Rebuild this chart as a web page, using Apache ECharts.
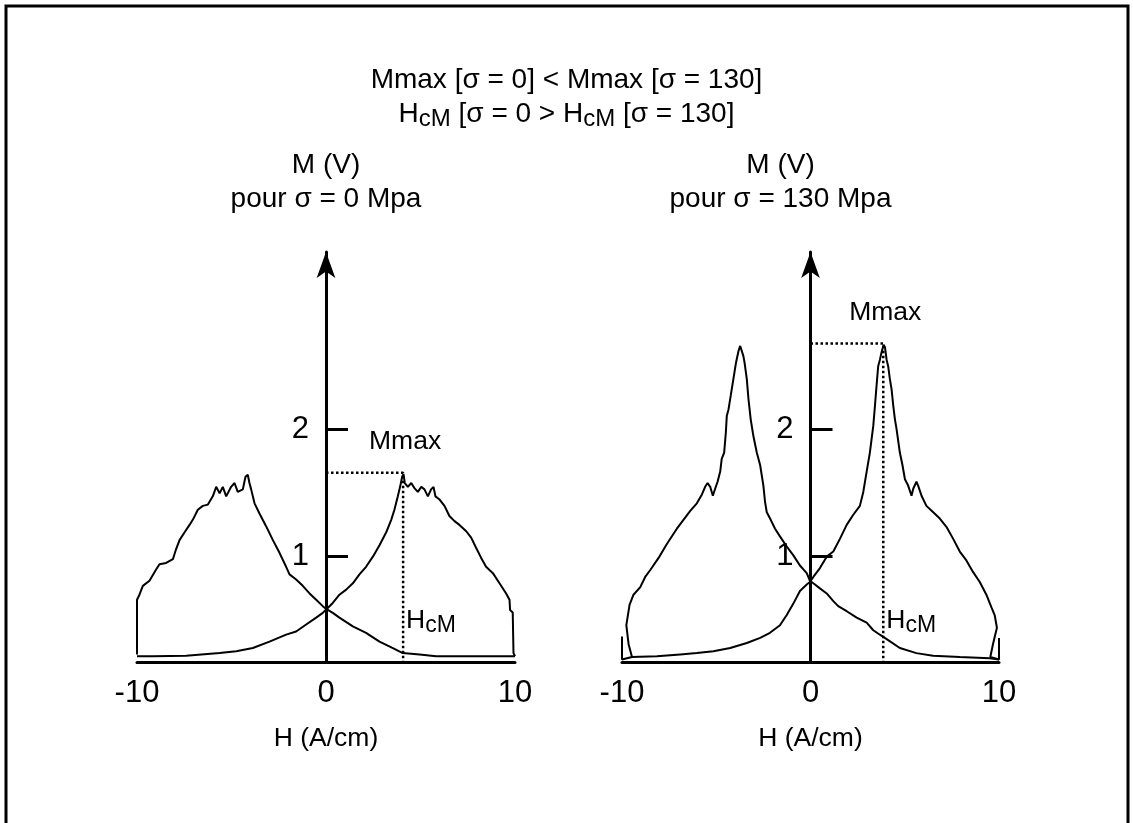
<!DOCTYPE html>
<html>
<head>
<meta charset="utf-8">
<script src="https://cdn.jsdelivr.net/npm/echarts@6/dist/echarts.min.js"></script>
<style>
  html, body { margin: 0; padding: 0; background: #fff; }
  #container { width: 1133px; height: 823px; }
</style>
</head>
<body>
<div id="container"></div>
<script>
var hTicks = [-10, 0, 10];
var mTicks = [1, 2];
var mMin = 0.17, mMax = 3.4;

// sigma = 0 MPa : branch with its peak at +H, branch with its peak at -H
var up0 = [[-10, 0.215], [-9.16, 0.215], [-7.4, 0.22], [-5.63, 0.24], [-4.75, 0.255], [-3.87, 0.28], [-2.99, 0.33],
  [-2.11, 0.386], [-1.58, 0.41], [-1.05, 0.465], [-0.52, 0.52], [-0.17, 0.557], [0.01, 0.583], [0.36, 0.635],
  [0.71, 0.70], [1.07, 0.74], [1.42, 0.79], [1.77, 0.86], [2.12, 0.92], [2.48, 1.00], [2.83, 1.09], [3.18, 1.19],
  [3.45, 1.29], [3.62, 1.37], [3.80, 1.475], [3.92, 1.55], [4.03, 1.63], [4.10, 1.65], [4.17, 1.58], [4.33, 1.55],
  [4.51, 1.58], [4.68, 1.54], [4.86, 1.51], [5.04, 1.55], [5.21, 1.53], [5.39, 1.475], [5.56, 1.53], [5.69, 1.55],
  [5.79, 1.475], [6.01, 1.45], [6.27, 1.40], [6.53, 1.32], [6.80, 1.28], [7.06, 1.25], [7.42, 1.20], [7.68, 1.15],
  [7.94, 1.07], [8.21, 0.99], [8.47, 0.92], [8.83, 0.87], [9.18, 0.79], [9.53, 0.71], [9.71, 0.66], [9.74, 0.58],
  [9.88, 0.56], [9.92, 0.24], [10, 0.215]];
var down0 = [[-10, 0.23], [-10, 0.66], [-9.87, 0.70], [-9.69, 0.77], [-9.34, 0.81], [-8.98, 0.90], [-8.81, 0.94],
  [-8.46, 0.95], [-8.10, 0.98], [-7.93, 1.06], [-7.75, 1.13], [-7.49, 1.19], [-7.22, 1.25], [-7.05, 1.29],
  [-6.78, 1.37], [-6.52, 1.40], [-6.25, 1.41], [-5.99, 1.475], [-5.81, 1.55], [-5.63, 1.50], [-5.46, 1.55],
  [-5.28, 1.475], [-5.02, 1.55], [-4.84, 1.58], [-4.67, 1.51], [-4.40, 1.53], [-4.26, 1.63], [-4.14, 1.645],
  [-4.05, 1.58], [-3.96, 1.53], [-3.78, 1.42], [-3.52, 1.34], [-3.17, 1.24], [-2.81, 1.13], [-2.46, 1.03],
  [-2.11, 0.92], [-1.93, 0.86], [-1.58, 0.82], [-1.23, 0.77], [-0.87, 0.71], [-0.52, 0.66], [-0.17, 0.61],
  [0.01, 0.588], [0.36, 0.557], [0.71, 0.52], [1.42, 0.45], [2.12, 0.40], [2.83, 0.33], [3.54, 0.28], [4.06, 0.24],
  [4.95, 0.23], [5.83, 0.215], [6.71, 0.215], [8.47, 0.215], [9.88, 0.215], [10, 0.215]];
var peak0 = [4.08, 1.66];

// sigma = 130 MPa
var up130 = [[-9.5, 0.21], [-8.15, 0.216], [-6.91, 0.23], [-6.03, 0.24], [-5.15, 0.255], [-4.26, 0.28], [-3.38, 0.32],
  [-2.67, 0.36], [-2.15, 0.40], [-1.62, 0.46], [-1.26, 0.54], [-0.91, 0.63], [-0.56, 0.73], [-0.20, 0.78],
  [-0.03, 0.80], [0.15, 0.84], [0.50, 0.91], [0.86, 1.00], [1.21, 1.04], [1.56, 1.14], [1.92, 1.25], [2.27, 1.33],
  [2.62, 1.40], [2.80, 1.51], [2.98, 1.67], [3.15, 1.82], [3.33, 2.03], [3.42, 2.19], [3.50, 2.34], [3.59, 2.50],
  [3.68, 2.55], [3.77, 2.61], [3.88, 2.67], [3.95, 2.65], [4.04, 2.55], [4.12, 2.50], [4.21, 2.40], [4.30, 2.32],
  [4.39, 2.19], [4.48, 2.08], [4.56, 2.01], [4.74, 1.82], [4.88, 1.72], [5.01, 1.61], [5.18, 1.56], [5.36, 1.48],
  [5.45, 1.535], [5.62, 1.59], [5.71, 1.56], [5.89, 1.48], [6.15, 1.40], [6.51, 1.35], [6.86, 1.30], [7.21, 1.235],
  [7.57, 1.14], [7.92, 1.04], [8.27, 0.97], [8.62, 0.88], [8.98, 0.80], [9.33, 0.70], [9.6, 0.60], [9.77, 0.54],
  [9.89, 0.44], [9.68, 0.31], [9.54, 0.21], [10, 0.19], [10, 0.36]];
var down130 = [[-10, 0.37], [-10, 0.19], [-9.47, 0.21], [-9.65, 0.31], [-9.77, 0.46], [-9.6, 0.62], [-9.39, 0.70],
  [-9.03, 0.76], [-8.77, 0.84], [-8.5, 0.895], [-8.06, 0.99], [-7.62, 1.10], [-7.09, 1.22], [-6.74, 1.29],
  [-6.38, 1.36], [-6.03, 1.42], [-5.76, 1.49], [-5.59, 1.55], [-5.46, 1.58], [-5.32, 1.55], [-5.18, 1.48],
  [-5.06, 1.535], [-4.93, 1.59], [-4.79, 1.67], [-4.71, 1.77], [-4.58, 1.82], [-4.49, 1.98], [-4.44, 2.11],
  [-4.35, 2.16], [-4.23, 2.27], [-4.09, 2.40], [-3.95, 2.53], [-3.82, 2.62], [-3.73, 2.66], [-3.65, 2.65],
  [-3.56, 2.58], [-3.50, 2.53], [-3.38, 2.40], [-3.29, 2.24], [-3.17, 2.08], [-3.03, 1.95], [-2.85, 1.82],
  [-2.67, 1.72], [-2.50, 1.56], [-2.41, 1.43], [-2.32, 1.35], [-2.11, 1.29], [-1.88, 1.22], [-1.62, 1.16],
  [-1.26, 1.08], [-0.91, 1.01], [-0.56, 0.93], [-0.20, 0.87], [-0.03, 0.81], [0.15, 0.79], [0.50, 0.75],
  [0.86, 0.71], [1.21, 0.65], [1.47, 0.61], [1.92, 0.57], [2.45, 0.52], [2.98, 0.48], [3.33, 0.42], [3.68, 0.385],
  [4.04, 0.35], [4.74, 0.28], [5.62, 0.24], [6.5, 0.22], [7.92, 0.21], [9.51, 0.20], [10, 0.19]];
var peak130 = [3.86, 2.68];

var font = 'Liberation Sans, Arial, Helvetica, sans-serif';

function xAxisFor(idx) {
    return {
        type: 'value', gridIndex: idx, min: -10, max: 10, interval: 10,
        axisLine: { onZero: false, lineStyle: { color: '#000', width: 3 } },
        axisTick: { show: false },
        splitLine: { show: false },
        axisLabel: { color: '#000', fontSize: 31, fontFamily: font, margin: 16 },
        name: 'H (A/cm)', nameLocation: 'middle', nameGap: 63,
        nameTextStyle: { color: '#000', fontSize: 26.5, fontFamily: font }
    };
}

// the M axis stands at H = 0, so it is shifted into the middle of its grid
function yAxisFor(idx, name, shift, pad) {
    return {
        type: 'value', gridIndex: idx, min: mMin, max: mMax, offset: -shift,
        axisLine: { onZero: false, symbol: ['none', 'arrow'], symbolSize: [14, 26],
            lineStyle: { color: '#000', width: 3 } },
        axisTick: { inside: true, length: 22, customValues: mTicks, lineStyle: { color: '#000', width: 3 } },
        axisLabel: { customValues: mTicks, color: '#000', fontSize: 31, fontFamily: font, margin: 17 },
        splitLine: { show: false },
        name: name, nameLocation: 'end', nameGap: 36,
        nameTextStyle: { color: '#000', fontSize: 28, fontFamily: font, lineHeight: 34, padding: pad }
    };
}

function curve(idx, data) {
    return {
        type: 'line', xAxisIndex: idx, yAxisIndex: idx, data: data,
        showSymbol: false, symbol: 'none', silent: true,
        lineStyle: { color: '#000', width: 2 }
    };
}

function guide(idx, peak) {
    return {
        type: 'line', xAxisIndex: idx, yAxisIndex: idx, showSymbol: false, symbol: 'none', silent: true,
        data: [[0, peak[1]], [peak[0], peak[1]], [peak[0], mMin]],
        lineStyle: { color: '#000', width: 2.5, type: 'dotted' }
    };
}

var subStyle = { color: '#000', fontSize: 23, fontFamily: font, padding: [9, 0, 0, 0], lineHeight: 25 };

function notes(idx, peak) {
    return {
        type: 'scatter', xAxisIndex: idx, yAxisIndex: idx, symbolSize: 0, silent: true,
        itemStyle: { opacity: 1, color: '#000' },
        data: [
            { value: [peak[0], peak[1]], label: { show: true, formatter: 'Mmax', position: 'inside', offset: [2, -31] } },
            { value: [peak[0], mMin], label: { show: true, formatter: 'H{sub|cM}', position: 'right', distance: 3, offset: [0, -41] } }
        ],
        label: { color: '#000', fontSize: 26.5, fontFamily: font, rich: { sub: subStyle } }
    };
}

var myChart = echarts.init(document.getElementById('container'));
var option = {
    animation: false,
    backgroundColor: '#fff',
    title: {
        text: 'Mmax [σ = 0] < Mmax [σ = 130]\nH{sub|cM} [σ = 0 > H{sub|cM} [σ = 130]',
        left: 'center', top: 58,
        textStyle: {
            color: '#000', fontSize: 28, fontWeight: 'normal', fontFamily: font, lineHeight: 34,
            rich: { sub: { color: '#000', fontSize: 24, fontFamily: font, padding: [10, 0, 0, 0], lineHeight: 26 } }
        }
    },
    graphic: [{
        type: 'rect', silent: true,
        shape: { x: 6, y: 6, width: 1122, height: 840 },
        style: { fill: 'none', stroke: '#000', lineWidth: 3 }
    }],
    grid: [
        { left: 137, width: 378, top: 252, height: 410 },
        { left: 622, width: 377, top: 252, height: 410 }
    ],
    xAxis: [xAxisFor(0), xAxisFor(1)],
    yAxis: [
        yAxisFor(0, 'M (V)\npour σ = 0 Mpa', 189, [0, 0, 0, 0]),
        yAxisFor(1, 'M (V)\npour σ = 130 Mpa', 188.5, [0, 60, 0, 0])
    ],
    series: [
        curve(0, up0), curve(0, down0), guide(0, peak0), notes(0, peak0),
        curve(1, up130), curve(1, down130), guide(1, peak130), notes(1, peak130)
    ]
};
myChart.setOption(option);
</script>
</body>
</html>
